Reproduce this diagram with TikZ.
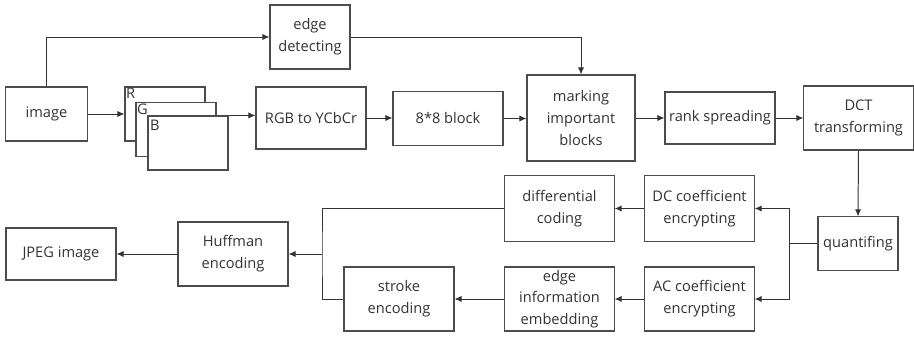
\documentclass[tikz,border=0pt]{standalone}
\usepackage{fontspec}
\setmainfont{Open Sans}
\usetikzlibrary{calc}
\usetikzlibrary{arrows.meta}
\usetikzlibrary{positioning}

\tikzset{
    box/.style={draw=black!70, line width=0.8pt, fill=white, align=center,
        text=black!80, font=\fontsize{10.4}{15.5}\selectfont, inner sep=1pt},
    arr/.style={-{Latex[length=5pt,width=4.5pt]}, line width=0.7pt, draw=black!80},
    ln/.style={line width=0.7pt, draw=black!80}
}

\begin{document}
\begin{tikzpicture}[x=0.025cm, y=-0.025cm]
            \useasboundingbox (0,0) rectangle (914,338);

            % Top row
            \node[box, minimum width=2.03cm, minimum height=1.35cm] (img) at (46.5,114) {image};
            \node[box, minimum width=2.0cm, minimum height=1.6cm] (edge) at (310,37) {edge\\detecting};

            % Colour planes
            \node[box, minimum width=2.0cm, minimum height=1.35cm] (R) at (165,114) {};
            \node[anchor=north west, inner sep=1pt, text=black!80, font=\fontsize{10.4}{12}\selectfont] (Rl) at (R.north west) {R};
            \node[box, minimum width=2.0cm, minimum height=1.33cm] (G) at (176,129.5) {};
            \node[anchor=north west, inner sep=1pt, text=black!80, font=\fontsize{10.4}{12}\selectfont] (Gl) at (G.north west) {G};
            \node[box, minimum width=2.0cm, minimum height=1.35cm] (B) at (188,143) {};
            \node[anchor=north west, inner sep=1pt, text=black!80, font=\fontsize{10.4}{12}\selectfont] (Bl) at ($(B.north west)+(1,3)$) {B};

            \node[box, minimum width=2.75cm, minimum height=1.55cm] (rgb) at (311,118) {RGB to YCbCr};
            \node[box, minimum width=2.75cm, minimum height=1.33cm] (blk) at (448,118.5) {8*8 block};
            \node[box, minimum width=2.7cm, minimum height=2.15cm] (mark) at (581,118) {marking\\important\\blocks};
            \node[box, minimum width=2.75cm, minimum height=1.3cm] (rank) at (720,118) {rank spreading};
            \node[box, minimum width=2.73cm, minimum height=1.6cm] (dct) at (858.5,118) {DCT\\transforming};

            % Lower rows
            \node[box, minimum width=2.0cm, minimum height=1.33cm] (quant) at (858,243.5) {quantifing};
            \node[box, minimum width=2.73cm, minimum height=1.63cm] (dc) at (699.5,208.5) {DC coefficient\\encrypting};
            \node[box, minimum width=2.73cm, minimum height=1.6cm] (ac) at (699.5,299) {AC coefficient\\encrypting};
            \node[box, minimum width=2.73cm, minimum height=1.63cm] (diff) at (559.5,208.5) {differential\\coding};
            \node[box, minimum width=2.73cm, minimum height=1.6cm] (emb) at (559.5,299) {edge\\information\\embedding};
            \node[box, minimum width=2.75cm, minimum height=1.6cm] (stroke) at (399,299) {stroke\\encoding};
            \node[box, minimum width=2.75cm, minimum height=1.6cm] (huff) at (233,254) {Huffman\\encoding};
            \node[box, minimum width=2.75cm, minimum height=1.3cm] (jpeg) at (61,254) {JPEG image};

            % Junctions
            \coordinate (qj) at (789,243.5);
            \coordinate (hj) at (322,254);

            % Connectors
            \draw[arr] (img.north) |- (edge.west);
            \draw[arr] (edge.east) -| (mark.north);
            \draw[arr] (img.east) -- (R.west);
            \draw[arr] (B.north east) -- (rgb.west |- B.north east);
            \draw[arr] (rgb.east) -- (rgb.east -| blk.west);
            \draw[arr] (blk.east) -- (blk.east -| mark.west);
            \draw[arr] (mark.east) -- (mark.east -| rank.west);
            \draw[arr] (rank.east) -- (rank.east -| dct.west);
            \draw[arr] (dct.south) -- (quant.north);
            \draw[ln] (quant.west) -- (qj);
            \draw[arr] (qj) |- (dc.east);
            \draw[arr] (qj) |- (ac.east);
            \draw[arr] (dc.west) -- (diff.east);
            \draw[arr] (ac.west) -- (emb.east);
            \draw[arr] (emb.west) -- (stroke.east);
            \draw[ln] (diff.west) -| (hj) |- (stroke.west);
            \draw[arr] (hj) -- (huff.east);
            \draw[arr] (huff.west) -- (jpeg.east);
\end{tikzpicture}
\end{document}
